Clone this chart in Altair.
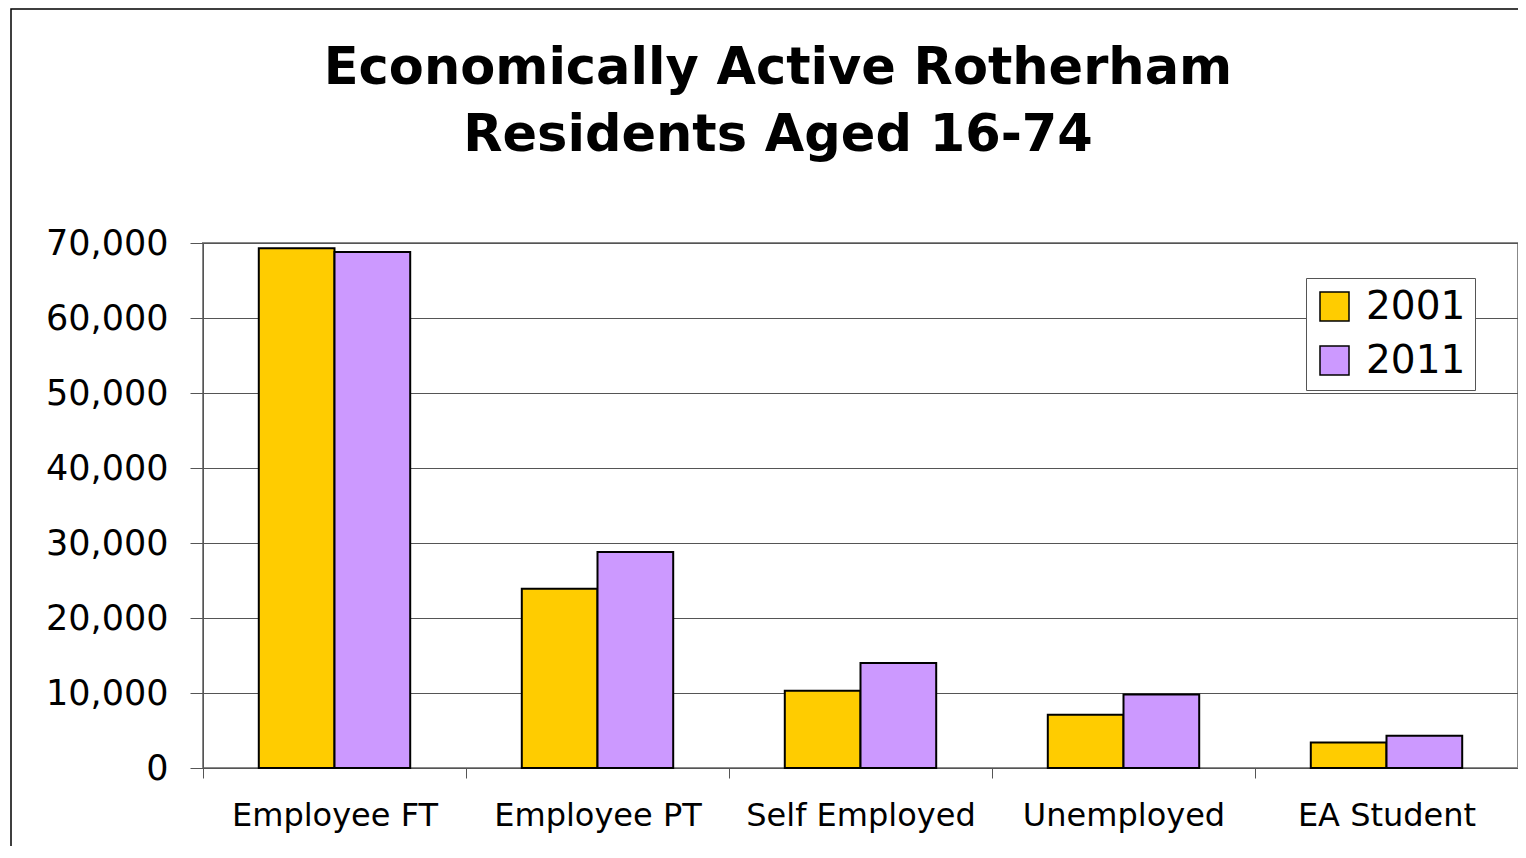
import altair as alt
import pandas as pd

categories = ["Employee FT", "Employee PT", "Self Employed", "Unemployed", "EA Student"]
years = ["2001", "2011"]
values_2001 = [69300, 23900, 10300, 7100, 3400]
values_2011 = [68800, 28800, 14000, 9800, 4300]
y_ticks = [0, 10000, 20000, 30000, 40000, 50000, 60000, 70000]
colors = ["#FFCC00", "#CC99FF"]
title_lines = ["Economically Active Rotherham", "Residents Aged 16-74"]

rows = []
for c, a, b in zip(categories, values_2001, values_2011):
    rows.append({"category": c, "year": years[0], "value": a})
    rows.append({"category": c, "year": years[1], "value": b})
df = pd.DataFrame(rows)

FONT = "DejaVu Sans"
LEFT = 195
W = 1510 - LEFT
TOP = 235
H = 525

bars = alt.Chart(df).mark_bar(stroke="black", strokeWidth=2).encode(
    x=alt.X("category:N", sort=categories,
            scale=alt.Scale(paddingInner=0, paddingOuter=0),
            axis=alt.Axis(title=None, labelAngle=0, tickBand="extent",
                          tickSize=10, tickColor="#555", domainColor="#555",
                          labelFont=FONT, labelFontSize=32, labelColor="black",
                          labelPadding=22, labelLimit=0, grid=False)),
    xOffset=alt.XOffset("year:N", sort=years,
                        scale=alt.Scale(paddingInner=0, paddingOuter=0.737)),
    y=alt.Y("value:Q", scale=alt.Scale(domain=[0, 70000], nice=False),
            axis=alt.Axis(title=None, values=y_ticks, format=",.0f",
                          tickSize=13, tickColor="#555", domainColor="#555",
                          gridColor="#555", gridWidth=1,
                          labelFont=FONT, labelFontSize=35, labelColor="black",
                          labelPadding=22)),
    color=alt.Color("year:N", sort=years,
                    scale=alt.Scale(domain=years, range=colors),
                    legend=alt.Legend(title=None, orient="none", legendX=1103, legendY=35,
                                      strokeColor="#555", fillColor="white", padding=9,
                                      symbolType="square", symbolSize=841,
                                      symbolStrokeColor="black", symbolStrokeWidth=1.5,
                                      labelFont=FONT, labelFontSize=39, labelColor="black",
                                      labelOffset=12, rowPadding=14)),
)

frame = alt.Chart(pd.DataFrame({"k": [0]})).mark_rect(
    fillOpacity=0, stroke="black", strokeWidth=1.5
).encode(
    x=alt.value(11 - 8 - LEFT), x2=alt.value(W + 100),
    y=alt.value(1 - TOP), y2=alt.value(H + 200)
)

title_df = pd.DataFrame({"line": title_lines, "ypos": [84 - 8 - TOP, 151 - 8 - TOP]})
title = alt.Chart(title_df).mark_text(
    font=FONT, fontSize=51, fontWeight="bold", color="black",
    align="center", baseline="alphabetic"
).encode(
    x=alt.value(778 - 8 - LEFT),
    y=alt.Y("ypos:Q", scale=None),
    text="line:N",
)

chart = alt.layer(frame, bars, title).properties(
    width=W,
    height=H,
    autosize=alt.AutoSizeParams(type="none"),
    padding={"left": LEFT, "top": TOP, "right": 0, "bottom": 78},
).configure_view(stroke="#888", strokeWidth=2)

chart.save("out.html", embed_options={"renderer": "svg", "actions": False})
